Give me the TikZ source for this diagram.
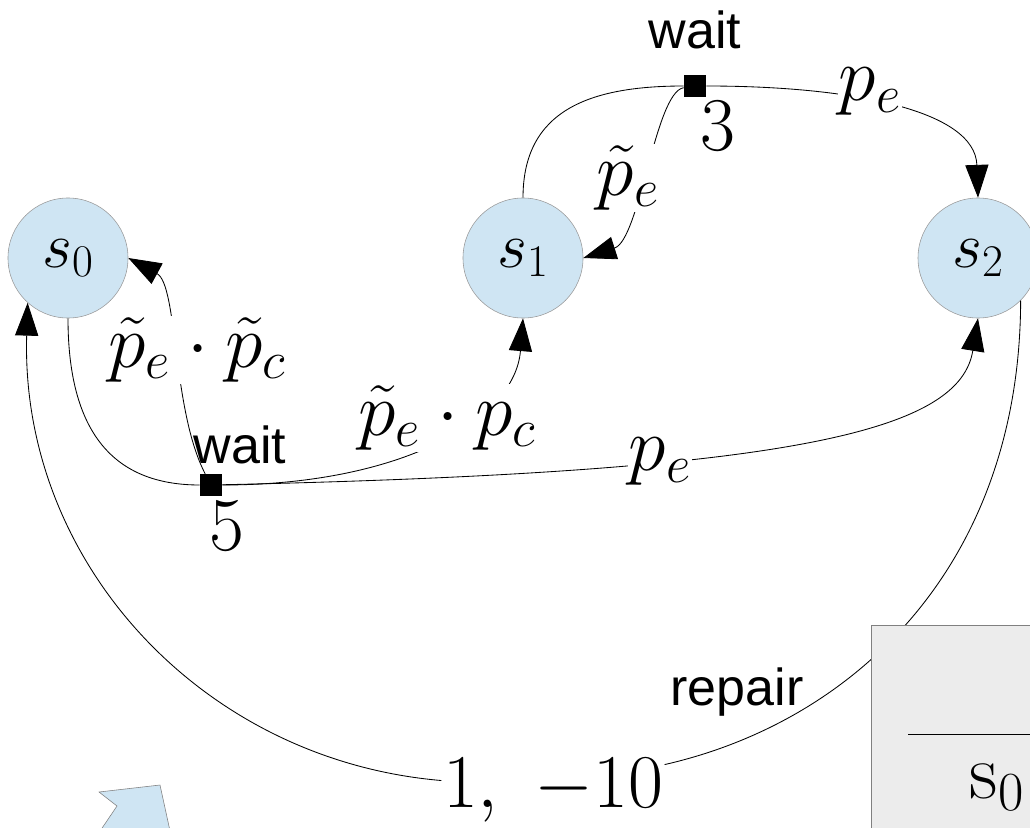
\RequirePackage{fix-cm}
\documentclass[tikz,border=0pt]{standalone}
\usepackage{fontspec}
\newfontfamily\actfont{Liberation Sans}
\usetikzlibrary{arrows.meta}
\definecolor{stateblue}{HTML}{CFE5F3}
\definecolor{boxgray}{HTML}{ECECEC}

\begin{document}
\begin{tikzpicture}[x=0.025cm, y=-0.025cm,
    stateNode/.style={circle, draw=gray!80, fill=stateblue, minimum size=3cm, inner sep=0pt, font=\fontsize{46}{50}\selectfont},
    waitBox/.style={rectangle, fill=black, minimum size=0.55cm, inner sep=0pt},
    probLabel/.style={fill=white, inner sep=1pt, font=\fontsize{54}{60}\selectfont},
    actLabel/.style={inner sep=0pt, font=\actfont\fontsize{37}{42}\selectfont},
    transLine/.style={line width=0.6pt},
    transArrow/.style={transLine, -{Triangle[length=0.82cm, width=0.58cm]}}
]
    \useasboundingbox (0,0) rectangle (1030,827);
    \clip (0,0) rectangle (1030,827);

    % States
    \node[stateNode] (s0) at (68,258) {$s_0$};
    \node[stateNode] (s1) at (523,258) {$s_1$};
    \node[stateNode] (s2) at (978,258) {$s_2$};

    % Wait decisions
    \node[waitBox] (w1) at (695,86) {};
    \node[waitBox] (w2) at (211,485) {};
    \node[actLabel] (waitA) at (695,30) {wait};
    \node[actLabel] (waitB) at (240,445) {wait};
    \node[probLabel, fill=none] (rewA) at (718,126) {$3$};
    \node[probLabel, fill=none] (rewB) at (227,526) {$5$};

    % From s1
    \draw[transLine] (s1.north) .. controls (523,110) and (590,86) .. (w1);
    \draw[transArrow] (w1) .. controls (655,92) and (640,240) .. (s1.east);
    \draw[transArrow] (w1) .. controls (850,86) and (975,110) .. (s2.north);
    \node[probLabel] (pA) at (628,178) {$\tilde{p}_e$};
    \node[probLabel] (pB) at (870,92) {$p_e$};

    % From s0
    \draw[transLine] (s0.south) .. controls (68,440) and (120,485) .. (w2);
    \draw[transArrow] (w2) .. controls (172,410) and (178,285) .. (s0.east);
    \draw[transArrow] (w2) .. controls (400,485) and (515,420) .. (s1.south);
    \draw[transArrow] (w2) .. controls (800,472) and (960,430) .. (s2.south);
    \node[probLabel] (pC) at (197,350) {$\tilde{p}_e\cdot\tilde{p}_c$};
    \node[probLabel] (pD) at (447,418) {$\tilde{p}_e\cdot p_c$};
    \node[probLabel] (pE) at (660,462) {$p_e$};

    % Repair from s2
    \node[probLabel] (rep) at (553,790) {$1,\ -10$};
    \node[actLabel] (repA) at (737,692) {repair};
    \draw[transArrow] (s2.-45) .. controls (1020,560) and (860,720) .. (rep)
        .. controls (200,760) and (20,560) .. (s0.-132);

    % Cut off shapes at the border
    \draw[draw=gray, fill=boxgray] (871,625) rectangle (1045,845);
    \draw[line width=0.6pt] (908,734) coordinate (ruleL) -- (1045,734) coordinate (ruleR);
    \node[font=\fontsize{56}{60}\selectfont, inner sep=0pt] (tabS) at (997,787) {$\mathrm{s}_0$};
    \draw[draw=gray, fill=stateblue] (99,792) -- (160,785) -- (172,840) -- (94,840) -- (117,806) -- cycle;
\end{tikzpicture}
\end{document}
